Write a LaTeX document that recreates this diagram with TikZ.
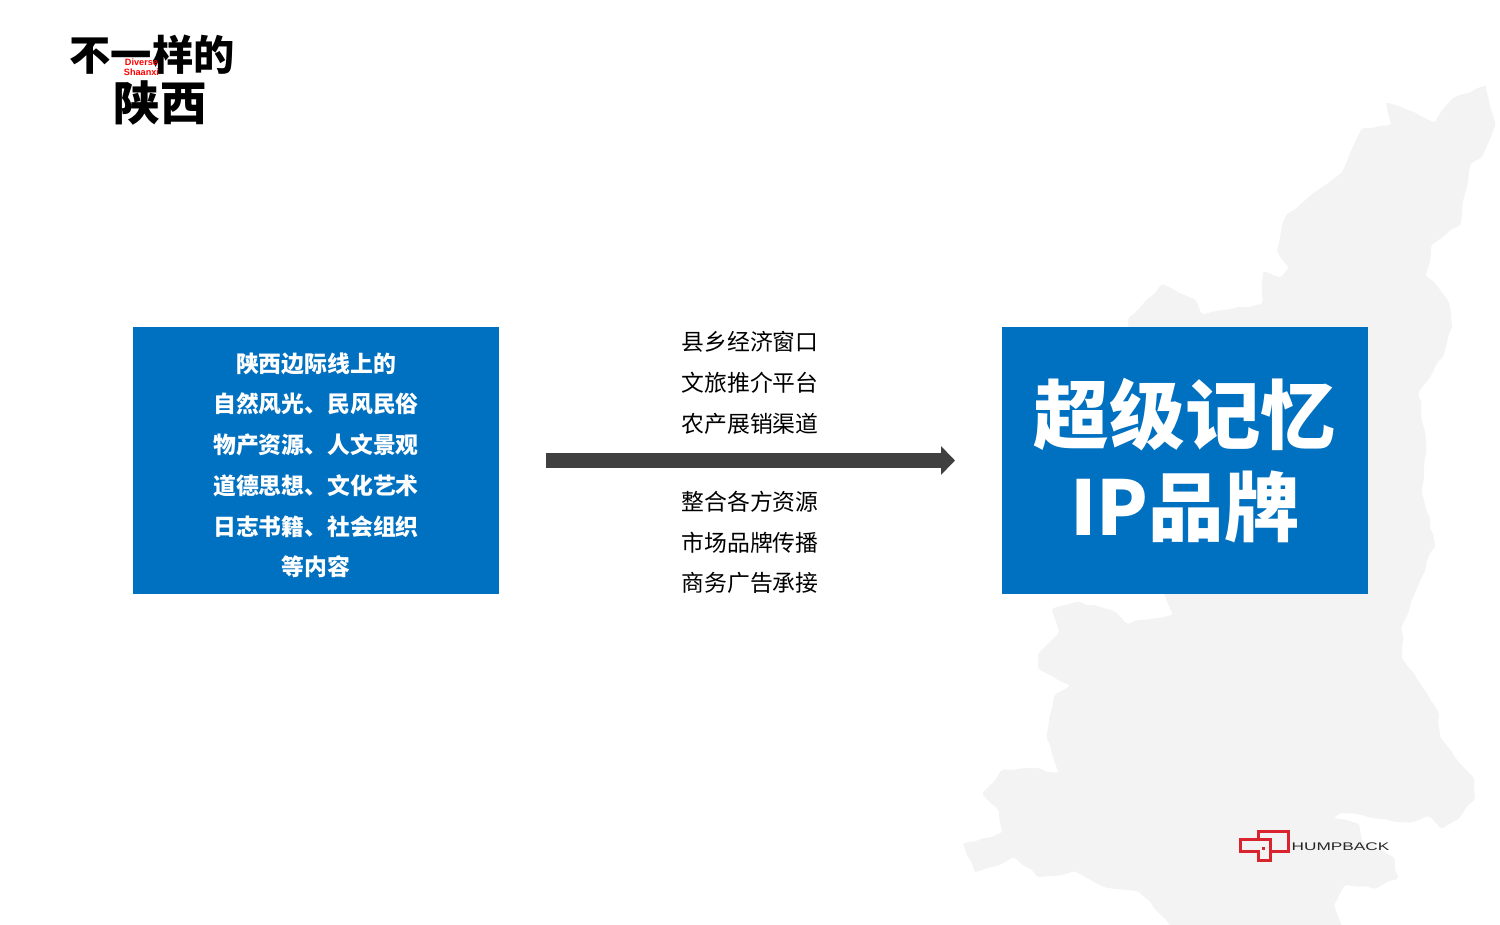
\documentclass[tikz,border=0pt]{standalone}
\usepackage{fontspec}
\usetikzlibrary{arrows.meta, decorations.pathmorphing}
\newfontfamily\cjk{Noto Sans CJK SC}
\newfontfamily\latin{Liberation Sans}
\begin{document}
\begin{tikzpicture}[x=0.02cm, y=-0.02cm]
    \tikzstyle{box}=[fill=blue1, text=white, inner sep=0pt, minimum width=7.32cm, minimum height=5.34cm, align=center]
    \tikzstyle{small}=[align=center, inner sep=0pt, font=\cjk\fontsize{13}{23.2}\selectfont]
    \tikzstyle{logoline}=[draw=red1, line width=0.06cm, line join=miter]
    \definecolor{blue1}{HTML}{0070C0}
    \definecolor{red1}{HTML}{D9232E}
    \definecolor{map1}{HTML}{F3F3F3}
    \definecolor{arrow1}{HTML}{404040}
    \useasboundingbox (0,0) rectangle (1500,925);

    % map behind everything
    \pgfmathsetseed{7}
    \fill[map1, rounded corners=1.5pt, decorate, decoration={random steps, segment length=5pt, amplitude=0.8pt}]
        (1485,86)--(1495,122)--(1483,155)--(1472,163)--(1463,201)--(1461,223)
        --(1433,244)--(1426,274)--(1447,299)--(1452,324)--(1444,354)--(1419,392)--(1426,441)--(1422,490)
        --(1435,544)--(1415,593)--(1402,626)--(1402,656)--(1426,692)--(1438,711)--(1440,735)--(1457,760)
        --(1473,777)--(1475,797)--(1460,817)--(1443,828)--(1430,817)--(1413,822)--(1397,822)--(1373,818)
        --(1343,813)--(1333,818)--(1357,823)--(1362,840)--(1393,857)--(1398,877)--(1377,888)--(1347,885)
        --(1335,903)--(1343,930)--(1176,930)--(1140,893)--(1108,888)--(1076,872)--(1040,877)--(1015,858)
        --(976,872)--(963,844)--(1001,833)--(999,812)--(983,795)--(1001,771)--(1036,768)--(1058,773)
        --(1047,738)--(1054,697)--(1070,686)--(1040,670)--(1038,656)--(1058,634)--(1052,610)--(1076,602)
        --(1111,610)--(1126,623)--(1172,615)--(1165,596)--(1128,321)--(1161,285)--(1194,299)--(1201,313)
        --(1261,304)--(1263,272)--(1279,277)--(1288,269)--(1278,253)--(1285,217)--(1311,195)--(1340,174)
        --(1361,130)--(1390,125)--(1386,103)--(1411,111)--(1433,122)--(1451,100)--cycle;

    % boxes
    \node[box, font=\cjk\bfseries\fontsize{13}{23.2}\selectfont] (B1) at (316,460.5) {\rule{0pt}{16.6pt}陕西边际线上的\\自然风光、民风民俗\\物产资源、人文景观\\道德思想、文化艺术\\日志书籍、社会组织\\等内容};
    \node[box, font=\cjk\bfseries\fontsize{43}{52.2}\selectfont] (B2) at (1185,460.5) {超级记忆\\IP品牌};

    % middle
    \node[small] (T1) at (750,383) {县乡经济窗口\\文旅推介平台\\农产展销渠道};
    \node[small] (T2) at (750,542.5) {整合各方资源\\市场品牌传播\\商务广告承接};
    \coordinate (A1) at (546,460.5);
    \coordinate (A2) at (955,460.5);
    \draw[arrow1, line width=0.29cm, -{Triangle[length=0.28cm, width=0.56cm]}] (A1)--(A2);

    % title top left
    \node[inner sep=0pt, font=\cjk\bfseries\fontsize{23.5}{24}\selectfont] (L1) at (152,55) {不一样的};
    \node[inner sep=0pt, font=\cjk\bfseries\fontsize{26.5}{27}\selectfont] (L2) at (160,103) {陕西};
    \node[inner sep=0pt, text=red, align=center, font=\latin\bfseries\fontsize{5.2}{5.8}\selectfont] (L3) at (141.5,67) {Diverse\\Shaanxi};

    % logo bottom right
    \draw[logoline] (1258,839)--(1258,831)--(1288,831)--(1288,851)--(1270,851);
    \draw[logoline] (1258,851)--(1240,851)--(1240,839)--(1270,839)--(1270,860)--(1258,860)--cycle;
    \fill[red1] (1262,847) rectangle (1265,850);
    \node[inner sep=0pt, anchor=west, xscale=1.56, text=black!85, font=\latin\fontsize{6.3}{7}\selectfont] (H1) at (1291,846.5) {HUMPBACK};
\end{tikzpicture}
\end{document}
